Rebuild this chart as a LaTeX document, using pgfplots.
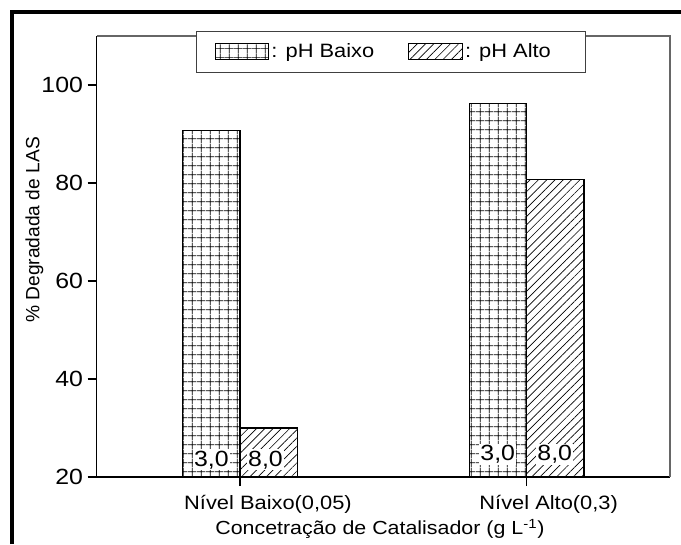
\documentclass[border=0pt]{standalone}
\usepackage{fontspec}
\setmainfont{Liberation Sans}[FakeStretch=1.13]
\newfontfamily\plainfont{Liberation Sans}
\usepackage{graphicx}
\usepackage{pgfplots}
\pgfplotsset{compat=1.18}
\usetikzlibrary{patterns.meta}
\pgfplotsset{boxlegend/.style={legend image code/.code={\draw[##1, line width=0.6pt] (0pt,-6pt) rectangle (40pt,6pt);}}}

\begin{document}
\begin{tikzpicture}[font=\fontsize{14.5}{17}\selectfont]
\begin{axis}[
  at={(72.5pt,50.25pt)}, anchor=south west,
  scale only axis, width=430pt, height=330.75pt,
  xmin=-0.5, xmax=1.5, ymin=20, ymax=110,
  ybar=0pt, bar width=0.2,
  axis lines*=left,
  axis line style={line width=1.2pt},
  clip=false,
  xtick={0,1},
  xticklabels={{\hspace*{42pt}N\'{\i}vel Baixo(0,05)},{\hspace*{33pt}N\'{\i}vel Alto(0,3)}},
  ytick={20,40,60,80,100},
  tick align=outside,
  major tick length=6.75pt,
  tick style={line width=1pt, black},
  minor tick num=0,
  /pgf/number format/assume math mode=true,
  xticklabel style={anchor=base, yshift=-17.25pt},
  yticklabel style={anchor=east, font=\fontsize{16.5}{19}\selectfont},
  xlabel={Concetra\c{c}\~ao de Catalisador (g L\textsuperscript{-1})},
  xlabel style={at={(axis description cs:0.494,-0.1315)}, anchor=base, font=\fontsize{14.2}{17}\selectfont},
  legend columns=2,
  legend style={at={(axis description cs:0.173,1.0113)}, anchor=north west,
    draw=black!75, line width=0.6pt, fill=white, inner xsep=13.8pt, inner ysep=7.3pt,
    /tikz/every even column/.append style={column sep=23.5pt}},
]
\addplot[draw=black, line width=0.9pt,
  pattern={Hatch[angle=0,distance=6.9pt,line width=0.5pt]}, boxlegend]
  coordinates {(0,90.7) (1,96.3)};
\addplot[draw=black, line width=0.9pt,
  pattern={Lines[angle=45,distance=4.4pt,line width=0.5pt]}, boxlegend]
  coordinates {(0,30.0) (1,80.7)};
\legend{: pH Baixo, : pH Alto\hspace*{9.75pt}}
\draw[black!60, line width=0.8pt] (rel axis cs:0,1) -- (rel axis cs:1,1) -- (rel axis cs:1,0);
\node[fill=white, inner sep=1pt, anchor=base, font=\fontsize{16.5}{18}\selectfont] at (axis cs:-0.1,22.24) {3,0};
\node[fill=white, inner sep=1pt, anchor=base, font=\fontsize{16.5}{18}\selectfont] at (axis cs:0.089,22.24) {8,0};
\node[fill=white, inner sep=1pt, anchor=base, font=\fontsize{16.5}{18}\selectfont] at (axis cs:0.899,23.27) {3,0};
\node[fill=white, inner sep=1pt, anchor=base, font=\fontsize{16.5}{18}\selectfont] at (axis cs:1.098,23.27) {8,0};
\end{axis}
\node[anchor=center, inner sep=2pt] at (25.9pt,235.5pt) {\rotatebox{90}{\plainfont\fontsize{14.4}{17}\selectfont\% Degradada de LAS}};
\draw[line width=3pt, line cap=butt, line join=miter] (9pt,0pt) -- (9pt,399pt) -- (510.75pt,399pt);
\pgfresetboundingbox
\useasboundingbox (0,0) rectangle (510.75pt,408pt);
\end{tikzpicture}
\end{document}
